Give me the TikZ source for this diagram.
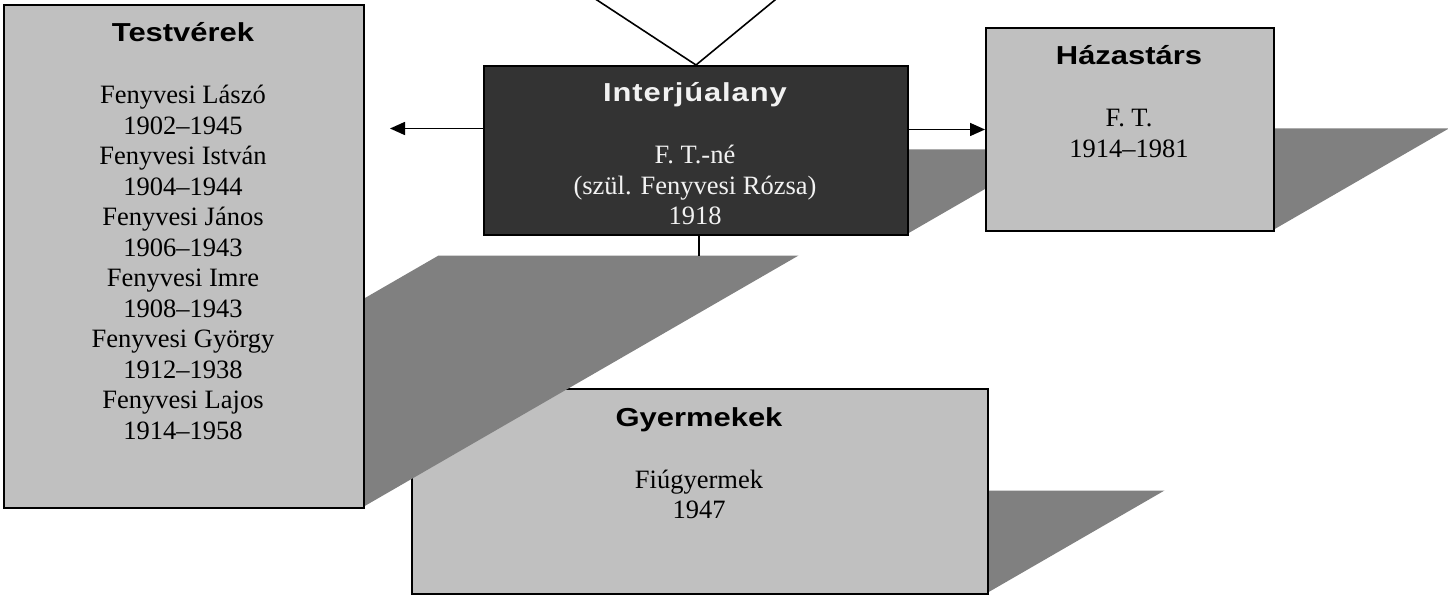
\documentclass[tikz,border=0pt]{standalone}
\usepackage{fontspec}
\setmainfont{Liberation Serif}
\newfontfamily\headfont[FakeStretch=1.19]{Liberation Sans}
\newfontfamily\headfontwide[FakeStretch=1.19,LetterSpace=3.5]{Liberation Sans}
\usetikzlibrary{arrows.meta}
\definecolor{boxgray}{HTML}{C0C0C0}
\definecolor{shadowgray}{HTML}{808080}
\definecolor{darkbox}{HTML}{333333}
\definecolor{lighttext}{HTML}{F2F2F2}
\begin{document}
\begin{tikzpicture}[x=1pt,y=-1pt,
  box/.style={draw=black, line width=2pt, fill=boxgray, inner sep=0pt, anchor=north west},
  darkboxstyle/.style={box, fill=darkbox},
  shadow/.style={fill=shadowgray},
  headtext/.style={anchor=base, inner sep=0pt, font=\headfont\bfseries\fontsize{26}{30}\selectfont},
  headtextwide/.style={anchor=base, inner sep=0pt, font=\headfontwide\bfseries\fontsize{26}{30}\selectfont},
  bodytext/.style={anchor=base, inner sep=0pt, font=\fontsize{26.5}{30.5}\selectfont},
  conn/.style={draw=black, line width=1.6pt},
  arrowconn/.style={conn, -{Triangle[length=15pt,width=13pt]}}
]
\useasboundingbox (0,0) rectangle (1448,596);
\fill[white] (0,0) rectangle (1448,596);

% Gyermekek
\fill[shadow] (411,593) -- (987,593) -- (1164.5,490.5) -- (588.5,490.5) -- cycle;
\node[box, minimum width=576pt, minimum height=205pt] (gy) at (411,388) {};

% Testvérek
\fill[shadow] (3,507) -- (363,507) -- (798.6,255.5) -- (438.6,255.5) -- cycle;
\node[box, minimum width=360pt, minimum height=503pt] (tv) at (3,4) {};

% Interjúalany
\fill[shadow] (483,234) -- (907,234) -- (1053.4,149.5) -- (629.4,149.5) -- cycle;
\node[darkboxstyle, minimum width=424pt, minimum height=169pt] (ia) at (483,65) {};

% Házastárs
\fill[shadow] (985,230) -- (1273,230) -- (1448.8,128.5) -- (1160.8,128.5) -- cycle;
\node[box, minimum width=288pt, minimum height=203pt] (hz) at (985,27) {};

% connectors
\coordinate (top1) at (589.3,-5);
\coordinate (top2) at (781,-5);
\coordinate (la) at (390,128.5);
\coordinate (st) at (699,256);
\draw[conn] (top1) -- (ia.north);
\draw[conn] (top2) -- (ia.north);
\draw[arrowconn] (ia.west |- la) -- (la);
\draw[arrowconn] (ia.east |- hz.west) -- (hz.west);
\draw[conn] (ia.south -| st) -- (st);

% texts
\node[headtext] (tvh) at (183,42) {Testvérek};
\node[bodytext] (tvb) at (183,104) {\begin{tabular}[t]{@{}c@{}}
Fenyvesi Lászó\\ 1902–1945\\ Fenyvesi István\\ 1904–1944\\
Fenyvesi János\\ 1906–1943\\ Fenyvesi Imre\\ 1908–1943\\
Fenyvesi György\\ 1912–1938\\ Fenyvesi Lajos\\ 1914–1958\end{tabular}};

\node[headtextwide, text=lighttext] (iah) at (695,102) {Interjúalany};
\node[bodytext, text=lighttext] (iab) at (695,164) {\begin{tabular}[t]{@{}c@{}}
F. T.-né\\ (szül. Fenyvesi Rózsa)\\ 1918\end{tabular}};

\node[headtext] (hzh) at (1129,65) {Házastárs};
\node[bodytext] (hzb) at (1129,127) {\begin{tabular}[t]{@{}c@{}}
F. T.\\ 1914–1981\end{tabular}};

\node[headtext] (gyh) at (699,426) {Gyermekek};
\node[bodytext] (gyb) at (699,488) {\begin{tabular}[t]{@{}c@{}}
Fiúgyermek\\ 1947\end{tabular}};
\end{tikzpicture}
\end{document}
